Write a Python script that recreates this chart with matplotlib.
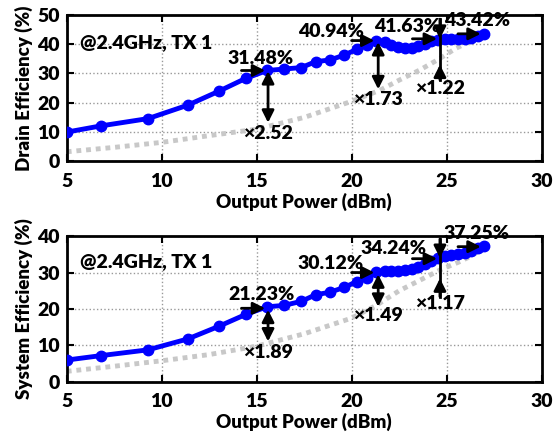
import numpy as np
import matplotlib
matplotlib.use("Agg")
import matplotlib.pyplot as plt

plt.rcParams['font.family'] = ['Lato', 'DejaVu Sans']
plt.rcParams['font.weight'] = 'bold'

# measured points (output power in dBm)
pout = [5, 6.78, 9.28, 11.38, 13.03, 14.42, 15.55, 16.45, 17.35, 18.1, 18.85, 19.6,
        20.26, 20.82, 21.3, 21.75, 22.1, 22.45, 22.8, 23.16, 23.5, 23.88, 24.2, 24.56,
        24.9, 25.25, 25.6, 25.95, 26.3, 26.65, 26.95]
drain_eff = [10.0, 12.1, 14.6, 19.2, 24.0, 28.3, 31.0, 31.5, 32.0, 34.0, 34.6, 36.2,
             38.2, 39.6, 41.0, 40.6, 39.7, 38.9, 38.6, 38.8, 39.4, 40.2, 40.9, 41.4,
             41.6, 41.7, 41.7, 41.8, 42.0, 42.6, 43.4]
sys_eff = [6.0, 7.2, 8.8, 11.8, 15.3, 18.5, 20.6, 21.0, 22.1, 23.9, 24.6, 25.9,
           27.5, 28.6, 30.1, 30.3, 30.4, 30.5, 30.6, 30.9, 31.6, 32.4, 33.2, 34.1,
           34.6, 34.9, 35.2, 35.5, 36.0, 36.7, 37.3]

# reference (grey dotted) curves
ref_x_top = [5, 7.5, 10, 12.5, 15, 17.5, 20, 21.5, 22.5, 23.6, 24.65, 25.5, 26.05, 27]
ref_drain = [3.3, 4.8, 6.5, 8.8, 11.0, 15.0, 20.5, 24.3, 27.7, 31.2, 35.1, 38.6, 40.3, 42.8]
ref_x_bot = [5, 7.5, 10, 12.5, 15, 17.5, 20, 21.3, 22.5, 23.6, 24.65, 25.7, 26.2, 27]
ref_sys = [2.9, 4.3, 5.8, 7.5, 9.8, 13.2, 17.5, 21.0, 25.0, 27.9, 30.7, 33.0, 34.3, 36.8]

# annotations: (label, text x, text y, arrow start x, arrow end x, arrow y)
drain_labels = [("31.48%", 15.2, 35.2, 14.2, 15.45, 31.0),
                ("40.94%", 18.9, 44.2, 20.0, 21.2, 41.2),
                ("41.63%", 22.9, 46.0, 23.2, 24.5, 41.8),
                ("43.42%", 26.6, 48.0, 25.6, 26.8, 43.5)]
sys_labels = [("21.23%", 15.25, 23.9, 14.2, 15.45, 20.2),
              ("30.12%", 18.9, 32.4, 20.0, 21.2, 30.0),
              ("34.24%", 22.2, 36.7, 23.2, 24.5, 33.8),
              ("37.25%", 26.6, 40.6, 25.6, 26.8, 37.1)]
# ratio markers: (text, x, top y, bottom y, text y)
drain_ratios = [("×2.52", 15.6, 30.8, 13.2, 9.4),
                ("×1.73", 21.4, 40.7, 24.6, 21.0)]
sys_ratios = [("×1.89", 15.6, 19.8, 11.1, 8.2),
              ("×1.49", 21.4, 29.5, 20.6, 18.2)]
# through-line marker at 24.65 dBm: (text, x, line top, down tip, up tip, line bottom, text y)
drain_cross = ("×1.22", 24.65, 48.5, 41.8, 33.0, 27.8, 24.9)
sys_cross = ("×1.17", 24.65, 39.2, 34.0, 28.4, 23.4, 21.4)

fig = plt.figure(figsize=(5.56, 4.34), dpi=100)
ax1 = fig.add_axes([0.12, 0.628, 0.854, 0.338])
ax2 = fig.add_axes([0.12, 0.12, 0.854, 0.336])

FS = 14


def arrow(ax, x0, y0, x1, y1, style='-|>'):
    ax.annotate('', xy=(x1, y1), xytext=(x0, y0),
                arrowprops=dict(arrowstyle=style, color='black', lw=2,
                                mutation_scale=18, shrinkA=0, shrinkB=0))


def draw_panel(ax, ref_x, ref_y, eff, ylim, yticks, ylabel, labels, ratios, cross, note_y):
    ax.plot(ref_x, ref_y, color='#c8c8c8', lw=3.5, ls=(0, (1, 1)), zorder=2)
    ax.plot(pout, eff, color='#0000ff', lw=3.5, marker='o', ms=7.5, zorder=3)
    ax.set_xlim(5, 30)
    ax.set_ylim(*ylim)
    ax.set_xticks([5, 10, 15, 20, 25, 30])
    ax.set_yticks(yticks)
    ax.grid(True, ls=':', color='#999999', lw=1)
    ax.tick_params(direction='in', top=True, right=True, length=5, width=1.5,
                   labelsize=FS, pad=5)
    ax.tick_params(axis='x', pad=8)
    for lab in ax.get_xticklabels() + ax.get_yticklabels():
        lab.set_fontweight('heavy')
    for sp in ax.spines.values():
        sp.set_linewidth(2)
    ax.set_xlabel('Output Power (dBm)', fontsize=13.5, fontweight='heavy', labelpad=2)
    ax.set_ylabel(ylabel, fontsize=13.5, fontweight='heavy', labelpad=3)
    ax.text(5.7, note_y, '@2.4GHz, TX 1', fontsize=FS, fontweight='heavy', va='center')

    for txt, tx, ty, ax0, ax1_, ay in labels:
        ax.text(tx, ty, txt, fontsize=FS, fontweight='heavy', ha='center', va='center',
                zorder=5, clip_on=False)
        arrow(ax, ax0, ay, ax1_, ay)
    for txt, x, ytop, ybot, ty in ratios:
        arrow(ax, x, ybot, x, ytop, style='<|-|>')
        ax.text(x, ty, txt, fontsize=FS, fontweight='heavy', ha='center', va='center')
    txt, x, ltop, tip_dn, tip_up, lbot, ty = cross
    ax.plot([x, x], [ltop, lbot], color='black', lw=2, zorder=4, clip_on=False)
    arrow(ax, x, ltop, x, tip_dn)
    arrow(ax, x, lbot, x, tip_up)
    ax.text(x, ty, txt, fontsize=FS, fontweight='heavy', ha='center', va='center')


draw_panel(ax1, ref_x_top, ref_drain, drain_eff, (0, 50), [0, 10, 20, 30, 40, 50],
           'Drain Efficiency (%)', drain_labels, drain_ratios, drain_cross, 40.6)
draw_panel(ax2, ref_x_bot, ref_sys, sys_eff, (0, 40), [0, 10, 20, 30, 40],
           'System Efficiency (%)', sys_labels, sys_ratios, sys_cross, 32.9)

fig.savefig('out.png', dpi=100)
